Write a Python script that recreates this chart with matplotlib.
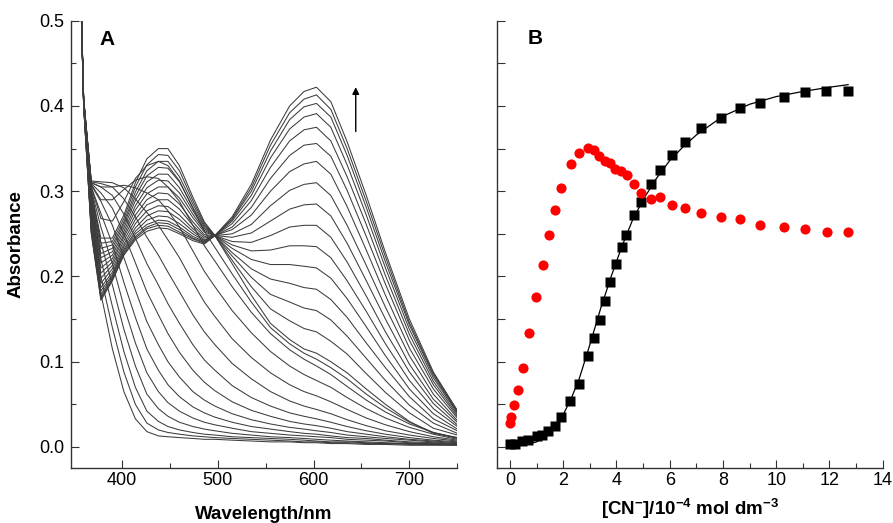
import matplotlib
matplotlib.use('Agg')
import matplotlib.pyplot as plt
from matplotlib.ticker import MultipleLocator, FixedLocator

plt.rcParams['font.family'] = ['Liberation Sans', 'DejaVu Sans']
plt.rcParams['mathtext.fontset'] = 'custom'
plt.rcParams['mathtext.rm'] = 'Liberation Sans:bold'
plt.rcParams['mathtext.default'] = 'rm'

# --- panel A: UV-vis spectra during the cyanide titration ---
wavelength = [352, 360, 368, 378, 390, 402, 414, 426, 438, 448, 460, 474, 486, 497,
              515, 535, 555, 575, 590, 603, 618, 635, 655, 675, 700, 725, 750]

# first additions: band edge creeping to the red
spectra_early = [
    [0.75, 0.400, 0.280, 0.180, 0.115, 0.065, 0.033, 0.018, 0.013, 0.012, 0.011, 0.010, 0.009, 0.009, 0.008, 0.007, 0.006, 0.006, 0.005, 0.005, 0.004, 0.004, 0.003, 0.003, 0.002, 0.002, 0.002],
    [0.75, 0.400, 0.290, 0.200, 0.140, 0.088, 0.050, 0.028, 0.020, 0.017, 0.015, 0.013, 0.012, 0.011, 0.010, 0.009, 0.008, 0.007, 0.006, 0.006, 0.005, 0.005, 0.004, 0.004, 0.003, 0.003, 0.002],
    [0.75, 0.405, 0.295, 0.220, 0.165, 0.112, 0.070, 0.042, 0.030, 0.024, 0.020, 0.017, 0.015, 0.014, 0.012, 0.011, 0.010, 0.009, 0.008, 0.007, 0.006, 0.006, 0.005, 0.004, 0.004, 0.003, 0.003],
    [0.75, 0.405, 0.300, 0.240, 0.190, 0.138, 0.095, 0.062, 0.045, 0.036, 0.029, 0.024, 0.021, 0.019, 0.016, 0.014, 0.012, 0.011, 0.010, 0.009, 0.008, 0.007, 0.006, 0.005, 0.004, 0.004, 0.003],
    [0.75, 0.405, 0.302, 0.258, 0.215, 0.165, 0.122, 0.087, 0.065, 0.052, 0.042, 0.034, 0.029, 0.026, 0.022, 0.018, 0.016, 0.014, 0.013, 0.012, 0.011, 0.009, 0.008, 0.007, 0.005, 0.004, 0.003],
    [0.75, 0.405, 0.305, 0.274, 0.238, 0.193, 0.152, 0.115, 0.090, 0.073, 0.059, 0.047, 0.040, 0.035, 0.029, 0.024, 0.021, 0.018, 0.016, 0.015, 0.013, 0.011, 0.010, 0.008, 0.006, 0.005, 0.004],
    [0.75, 0.406, 0.307, 0.288, 0.260, 0.222, 0.184, 0.147, 0.120, 0.100, 0.082, 0.065, 0.055, 0.048, 0.039, 0.032, 0.027, 0.023, 0.021, 0.019, 0.017, 0.014, 0.012, 0.010, 0.008, 0.006, 0.004],
    [0.75, 0.406, 0.309, 0.298, 0.280, 0.250, 0.216, 0.182, 0.155, 0.133, 0.111, 0.090, 0.076, 0.066, 0.053, 0.043, 0.036, 0.030, 0.027, 0.025, 0.022, 0.018, 0.015, 0.012, 0.009, 0.007, 0.005],
    [0.75, 0.407, 0.310, 0.305, 0.295, 0.273, 0.245, 0.215, 0.190, 0.168, 0.145, 0.120, 0.102, 0.090, 0.072, 0.058, 0.048, 0.040, 0.036, 0.033, 0.029, 0.024, 0.019, 0.015, 0.011, 0.008, 0.006],
    [0.75, 0.407, 0.311, 0.309, 0.305, 0.291, 0.270, 0.246, 0.225, 0.205, 0.182, 0.155, 0.135, 0.120, 0.098, 0.080, 0.065, 0.054, 0.048, 0.044, 0.039, 0.032, 0.025, 0.019, 0.014, 0.010, 0.007],
    [0.75, 0.408, 0.312, 0.311, 0.310, 0.304, 0.291, 0.275, 0.260, 0.243, 0.222, 0.193, 0.170, 0.153, 0.127, 0.105, 0.087, 0.073, 0.065, 0.060, 0.053, 0.044, 0.034, 0.026, 0.018, 0.012, 0.008],
    [0.75, 0.408, 0.310, 0.305, 0.305, 0.307, 0.304, 0.298, 0.290, 0.277, 0.258, 0.230, 0.206, 0.188, 0.160, 0.134, 0.112, 0.095, 0.085, 0.078, 0.070, 0.058, 0.045, 0.034, 0.023, 0.015, 0.009],
    [0.75, 0.409, 0.308, 0.290, 0.290, 0.302, 0.313, 0.317, 0.315, 0.305, 0.288, 0.260, 0.236, 0.218, 0.188, 0.158, 0.133, 0.114, 0.103, 0.095, 0.085, 0.071, 0.055, 0.041, 0.027, 0.017, 0.010],
    [0.75, 0.410, 0.305, 0.268, 0.265, 0.288, 0.315, 0.330, 0.335, 0.330, 0.312, 0.280, 0.253, 0.234, 0.203, 0.170, 0.140, 0.121, 0.110, 0.103, 0.093, 0.080, 0.062, 0.046, 0.029, 0.017, 0.011],
]

# later additions: 440 nm band falls, 600 nm band rises (isosbestic near 497 nm)
spectra_late = [
    [0.75, 0.410, 0.300, 0.245, 0.245, 0.272, 0.310, 0.338, 0.350, 0.350, 0.330, 0.293, 0.264, 0.248, 0.215, 0.178, 0.145, 0.126, 0.115, 0.110, 0.100, 0.087, 0.068, 0.050, 0.030, 0.016, 0.011],
    [0.75, 0.409, 0.296, 0.239, 0.241, 0.268, 0.305, 0.331, 0.343, 0.342, 0.324, 0.289, 0.262, 0.248, 0.219, 0.188, 0.162, 0.148, 0.139, 0.135, 0.124, 0.109, 0.086, 0.064, 0.040, 0.022, 0.014],
    [0.75, 0.408, 0.292, 0.233, 0.237, 0.264, 0.299, 0.324, 0.335, 0.335, 0.317, 0.285, 0.260, 0.248, 0.224, 0.199, 0.179, 0.170, 0.163, 0.160, 0.149, 0.130, 0.104, 0.078, 0.049, 0.028, 0.016],
    [0.75, 0.408, 0.288, 0.227, 0.233, 0.261, 0.294, 0.318, 0.328, 0.327, 0.311, 0.281, 0.258, 0.248, 0.228, 0.209, 0.197, 0.192, 0.187, 0.185, 0.173, 0.152, 0.122, 0.093, 0.059, 0.033, 0.019],
    [0.75, 0.407, 0.284, 0.222, 0.229, 0.257, 0.289, 0.311, 0.320, 0.320, 0.304, 0.277, 0.256, 0.248, 0.233, 0.220, 0.214, 0.214, 0.212, 0.210, 0.198, 0.174, 0.141, 0.107, 0.068, 0.039, 0.021],
    [0.75, 0.406, 0.280, 0.216, 0.225, 0.253, 0.283, 0.304, 0.313, 0.312, 0.298, 0.273, 0.254, 0.248, 0.237, 0.230, 0.231, 0.236, 0.236, 0.235, 0.222, 0.195, 0.159, 0.121, 0.078, 0.045, 0.024],
    [0.75, 0.405, 0.276, 0.210, 0.221, 0.249, 0.278, 0.297, 0.305, 0.305, 0.292, 0.269, 0.252, 0.248, 0.241, 0.240, 0.248, 0.258, 0.260, 0.260, 0.246, 0.217, 0.177, 0.135, 0.088, 0.051, 0.026],
    [0.75, 0.404, 0.272, 0.204, 0.217, 0.246, 0.272, 0.290, 0.298, 0.297, 0.285, 0.264, 0.249, 0.248, 0.246, 0.251, 0.265, 0.279, 0.284, 0.285, 0.271, 0.239, 0.195, 0.150, 0.097, 0.056, 0.029],
    [0.75, 0.404, 0.268, 0.198, 0.213, 0.242, 0.267, 0.284, 0.290, 0.290, 0.279, 0.260, 0.247, 0.248, 0.250, 0.261, 0.283, 0.301, 0.308, 0.310, 0.295, 0.260, 0.213, 0.164, 0.107, 0.062, 0.031],
    [0.75, 0.403, 0.264, 0.192, 0.209, 0.238, 0.262, 0.277, 0.283, 0.282, 0.272, 0.256, 0.245, 0.248, 0.255, 0.272, 0.300, 0.323, 0.332, 0.335, 0.320, 0.282, 0.231, 0.178, 0.116, 0.068, 0.034],
    [0.75, 0.402, 0.260, 0.187, 0.205, 0.235, 0.257, 0.271, 0.277, 0.276, 0.267, 0.253, 0.243, 0.248, 0.258, 0.281, 0.315, 0.342, 0.354, 0.356, 0.341, 0.301, 0.247, 0.191, 0.125, 0.073, 0.036],
    [0.75, 0.401, 0.257, 0.183, 0.202, 0.232, 0.253, 0.266, 0.271, 0.270, 0.262, 0.250, 0.242, 0.248, 0.262, 0.289, 0.328, 0.359, 0.372, 0.375, 0.359, 0.317, 0.261, 0.201, 0.132, 0.077, 0.038],
    [0.75, 0.401, 0.255, 0.179, 0.200, 0.230, 0.250, 0.261, 0.266, 0.265, 0.258, 0.247, 0.241, 0.248, 0.265, 0.295, 0.339, 0.373, 0.387, 0.391, 0.375, 0.331, 0.272, 0.210, 0.138, 0.081, 0.040],
    [0.75, 0.401, 0.253, 0.176, 0.198, 0.228, 0.247, 0.258, 0.263, 0.262, 0.255, 0.245, 0.240, 0.248, 0.267, 0.300, 0.347, 0.384, 0.399, 0.403, 0.387, 0.342, 0.281, 0.217, 0.143, 0.084, 0.041],
    [0.75, 0.400, 0.251, 0.174, 0.196, 0.226, 0.245, 0.256, 0.260, 0.259, 0.252, 0.244, 0.239, 0.248, 0.268, 0.304, 0.354, 0.392, 0.408, 0.413, 0.396, 0.350, 0.288, 0.223, 0.146, 0.086, 0.042],
    [0.75, 0.400, 0.250, 0.172, 0.195, 0.225, 0.243, 0.253, 0.257, 0.256, 0.250, 0.242, 0.238, 0.248, 0.270, 0.308, 0.360, 0.400, 0.417, 0.422, 0.405, 0.358, 0.295, 0.228, 0.150, 0.088, 0.043],
]

# --- panel B: absorbance vs [CN-] ---
cn_red = [0, 0.05, 0.16, 0.30, 0.48, 0.73, 0.98, 1.23, 1.45, 1.70, 1.93, 2.28, 2.60,
          2.93, 3.16, 3.36, 3.56, 3.77, 3.96, 4.17, 4.38, 4.65, 4.93, 5.30, 5.65,
          6.07, 6.59, 7.19, 7.93, 8.64, 9.40, 10.28, 11.09, 11.90, 12.68]
abs_red = [0.028, 0.035, 0.049, 0.067, 0.093, 0.134, 0.176, 0.213, 0.249, 0.278, 0.304,
           0.332, 0.345, 0.351, 0.348, 0.341, 0.336, 0.333, 0.326, 0.324, 0.319, 0.309,
           0.298, 0.291, 0.293, 0.284, 0.280, 0.274, 0.270, 0.268, 0.260, 0.258, 0.256,
           0.252, 0.252]

cn_black = [0, 0.19, 0.44, 0.69, 1.00, 1.19, 1.44, 1.69, 1.92, 2.25, 2.60, 2.94, 3.17,
            3.37, 3.58, 3.77, 3.98, 4.19, 4.37, 4.67, 4.93, 5.31, 5.65, 6.10, 6.59,
            7.19, 7.94, 8.65, 9.40, 10.29, 11.09, 11.88, 12.70]
abs_black = [0.003, 0.004, 0.007, 0.008, 0.0126, 0.0145, 0.0184, 0.0247, 0.0349, 0.0536,
             0.0744, 0.107, 0.128, 0.149, 0.171, 0.193, 0.215, 0.235, 0.249, 0.272, 0.287,
             0.309, 0.325, 0.342, 0.358, 0.374, 0.386, 0.398, 0.403, 0.411, 0.416, 0.417,
             0.417]

fit_cn = [0, 0.5, 1.0, 1.5, 2.0, 2.3, 2.6, 3.0, 3.4, 3.8, 4.2, 4.6, 5.0, 5.5, 6.0,
          6.5, 7.0, 8.0, 9.0, 10.0, 11.0, 12.0, 12.7]
fit_abs = [0.001, 0.002, 0.006, 0.015, 0.038, 0.057, 0.080, 0.120, 0.162, 0.200, 0.235,
           0.266, 0.290, 0.315, 0.336, 0.352, 0.366, 0.388, 0.402, 0.411, 0.417, 0.422,
           0.425]

fig = plt.figure(figsize=(8.93, 5.23), dpi=100)
axA = fig.add_axes([0.0795, 0.1046, 0.4326, 0.8558])
axB = fig.add_axes([0.5562, 0.1046, 0.4323, 0.8558])

for ax in (axA, axB):
    for s in ('top', 'right'):
        ax.spines[s].set_visible(False)
    for s in ('left', 'bottom'):
        ax.spines[s].set_linewidth(1.0)
        ax.spines[s].set_color('#333333')
    ax.tick_params(which='major', direction='in', length=6, width=0.8,
                   labelsize=13, color='#333333')
    ax.tick_params(which='minor', direction='in', length=3.5, width=0.8,
                   color='#333333')
    ax.tick_params(axis='x', pad=3)
    ax.tick_params(axis='y', pad=5)
    ax.set_ylim(-0.025, 0.5)

# panel A
for sp in spectra_early + spectra_late:
    axA.plot(wavelength, sp, color='#3c3c3c', lw=0.75)
axA.set_xlim(346.8, 750)
axA.xaxis.set_major_locator(FixedLocator([400, 500, 600, 700]))
axA.xaxis.set_minor_locator(FixedLocator([450, 550, 650, 750]))
axA.yaxis.set_major_locator(MultipleLocator(0.1))
axA.yaxis.set_minor_locator(MultipleLocator(0.05))
axA.yaxis.set_major_formatter(plt.FormatStrFormatter('%.1f'))
axA.set_xlabel('Wavelength/nm', fontsize=13.5, fontweight='bold')
axA.set_ylabel('Absorbance', fontsize=13.5, fontweight='bold')
axA.xaxis.set_label_coords(0.5, -0.084)
axA.yaxis.set_label_coords(-0.119, 0.5)
axA.text(0.093, 0.959, 'A', transform=axA.transAxes, fontsize=15,
         fontweight='bold', ha='center', va='center')
axA.annotate('', xy=(644, 0.422), xytext=(644, 0.370),
             arrowprops=dict(arrowstyle='-|>', color='black', lw=1.0,
                             mutation_scale=10, shrinkA=0, shrinkB=0))

# panel B
axB.plot(fit_cn, fit_abs, color='black', lw=0.9, zorder=2)
axB.plot(cn_black, abs_black, 's', color='black', ms=6.5, mec='none', zorder=3)
axB.plot(cn_red, abs_red, 'o', color='red', ms=7.3, mec='none', zorder=4)
axB.set_xlim(-0.5, 14)
axB.xaxis.set_major_locator(MultipleLocator(2))
axB.xaxis.set_minor_locator(MultipleLocator(1))
axB.yaxis.set_major_locator(MultipleLocator(0.05))
axB.yaxis.set_minor_locator(plt.NullLocator())
axB.yaxis.set_major_formatter(plt.NullFormatter())
axB.set_xlabel(r'[CN$^{-}$]/10$^{-4}$ mol dm$^{-3}$', fontsize=13.5, fontweight='bold')
axB.xaxis.set_label_coords(0.5, -0.064)
axB.text(0.099, 0.96, 'B', transform=axB.transAxes, fontsize=15,
         fontweight='bold', ha='center', va='center')

fig.savefig('out.png', dpi=100)
